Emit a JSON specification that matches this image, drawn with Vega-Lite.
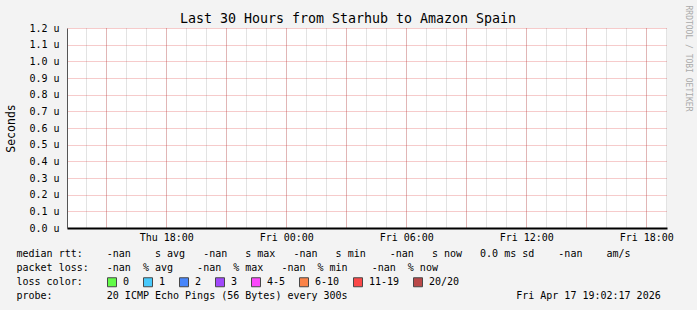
{
  "$schema": "https://vega.github.io/schema/vega-lite/v6.json",
  "width": 600,
  "height": 200,
  "autosize": {"type": "none"},
  "padding": {"left": 67, "top": 28, "right": 30, "bottom": 82},
  "background": "#f3f3f3",
  "config": {
    "view": {"fill": "#ffffff", "stroke": null},
    "locale": {"number": {"decimal": ".", "thousands": ",", "grouping": [3], "currency": ["", " u"]}},
    "axis": {"labelFont": "DejaVu Sans Mono", "titleFont": "DejaVu Sans Mono", "labelColor": "#000000", "titleColor": "#000000", "titleFontWeight": "normal", "labelFontSize": 10}
  },
  "title": {
    "text": "Last 30 Hours from Starhub to Amazon Spain",
    "font": "DejaVu Sans Mono",
    "fontSize": 13.3,
    "fontWeight": "normal",
    "color": "#000000",
    "frame": "group",
    "anchor": "middle",
    "dx": -19,
    "offset": -20
  },
  "datasets": {
    "rtt": [
      {"time": "2026-04-16T13:02:17", "median_rtt": null, "loss": null},
      {"time": "2026-04-17T19:02:17", "median_rtt": null, "loss": null}
    ]
  },
  "data": {"name": "rtt"},
  "layer": [
    {
      "mark": {"type": "rule", "opacity": 0},
      "encoding": {
        "x": {"field": "time", "type": "temporal", "scale": {"nice": false}, "axis": null}
      }
    },
    {
      "mark": {"type": "point", "shape": "square", "filled": true},
      "encoding": {
        "x": {
          "field": "time", "type": "temporal",
          "scale": {"nice": false},
          "axis": {"orient": "bottom", "grid": true, "gridColor": "#8f8f8f", "gridOpacity": 0.5, "gridDash": [1, 1], "tickCount": 30, "labels": false, "ticks": false, "domain": false, "title": null}
        },
        "y": {
          "field": "median_rtt", "type": "quantitative",
          "scale": {"domain": [0, 1.2], "nice": false},
          "axis": {
            "orient": "left",
            "values": [0, 0.1, 0.2, 0.3, 0.4, 0.5, 0.6, 0.7, 0.8, 0.9, 1, 1.1, 1.2],
            "format": "$.1f",
            "grid": true, "gridColor": "#de3030", "gridOpacity": 0.5, "gridDash": [1, 1],
            "ticks": false, "labelPadding": 8,
            "domain": true, "domainColor": "#555555",
            "title": "Seconds", "titleFontSize": 11.5, "titlePadding": 12
          }
        },
        "color": {
          "field": "loss", "type": "nominal",
          "scale": {"domain": ["0", "1", "2", "3", "4-5", "6-10", "11-19", "20/20"], "range": ["#26ff00", "#00b8ff", "#0059ff", "#7e00ff", "#ff00ff", "#ff5500", "#ff0000", "#a10000"]},
          "legend": {
            "title": null, "orient": "none", "legendX": 40, "legendY": 249,
            "direction": "horizontal", "columns": 8,
            "symbolType": "square", "symbolSize": 81, "symbolStrokeColor": "#000000", "symbolStrokeWidth": 1,
            "labelFont": "DejaVu Sans Mono", "labelFontSize": 10, "labelColor": "#000000", "labelOffset": 6, "columnPadding": 11
          }
        }
      }
    },
    {
      "mark": {"type": "point"},
      "encoding": {
        "x": {
          "field": "time", "type": "temporal",
          "scale": {"nice": false},
          "axis": {"orient": "bottom", "grid": true, "gridColor": "#de3030", "gridOpacity": 0.5, "gridDash": [1, 1], "tickCount": 10, "labels": false, "ticks": false, "domain": false, "title": null}
        },
        "y": {"field": "median_rtt", "type": "quantitative", "scale": {"domain": [0, 1.2], "nice": false}, "axis": null}
      }
    },
    {
      "mark": {"type": "point"},
      "encoding": {
        "x": {
          "field": "time", "type": "temporal",
          "scale": {"nice": false},
          "axis": {
            "orient": "bottom", "grid": false, "ticks": false,
            "domain": true, "domainColor": "#000000", "domainWidth": 2,
            "tickCount": 5, "format": "%a %H:%M",
            "labelPadding": 4, "labelFlush": false,
            "title": [
              "median\u00a0rtt:\u00a0\u00a0\u00a0\u00a0-nan\u00a0\u00a0\u00a0\u00a0s\u00a0avg\u00a0\u00a0\u00a0-nan\u00a0\u00a0\u00a0s\u00a0max\u00a0\u00a0\u00a0-nan\u00a0\u00a0\u00a0s\u00a0min\u00a0\u00a0\u00a0\u00a0-nan\u00a0\u00a0\u00a0s\u00a0now\u00a0\u00a0\u00a00.0\u00a0ms\u00a0sd\u00a0\u00a0\u00a0\u00a0-nan\u00a0\u00a0\u00a0\u00a0am/s",
              "packet\u00a0loss:\u00a0\u00a0\u00a0-nan\u00a0\u00a0%\u00a0avg\u00a0\u00a0\u00a0\u00a0-nan\u00a0\u00a0%\u00a0max\u00a0\u00a0\u00a0-nan\u00a0\u00a0%\u00a0min\u00a0\u00a0\u00a0\u00a0-nan\u00a0\u00a0%\u00a0now",
              "loss\u00a0color:",
              "probe:\u00a0\u00a0\u00a0\u00a0\u00a0\u00a0\u00a0\u00a0\u00a020\u00a0ICMP\u00a0Echo\u00a0Pings\u00a0(56\u00a0Bytes)\u00a0every\u00a0300s\u00a0\u00a0\u00a0\u00a0\u00a0\u00a0\u00a0\u00a0\u00a0\u00a0\u00a0\u00a0\u00a0\u00a0\u00a0\u00a0\u00a0\u00a0\u00a0\u00a0\u00a0\u00a0\u00a0\u00a0\u00a0\u00a0\u00a0\u00a0Fri\u00a0Apr\u00a017\u00a019:02:17\u00a02026"
            ],
            "titleAnchor": "start", "titleAlign": "left", "titleX": -51, "titleY": 20, "titleBaseline": "top", "titleFontSize": 10, "titleLineHeight": 14
          }
        },
        "y": {"field": "median_rtt", "type": "quantitative", "scale": {"domain": [0, 1.2], "nice": false}, "axis": null}
      }
    },
    {
      "mark": {"type": "point"},
      "encoding": {
        "x": {"field": "time", "type": "temporal", "scale": {"nice": false}, "axis": null},
        "y": {
          "field": "median_rtt", "type": "quantitative", "scale": {"domain": [0, 1.2], "nice": false},
          "axis": {"orient": "right", "labels": false, "ticks": false, "domain": false, "grid": false, "title": "RRDTOOL / TOBI OETIKER", "titleAngle": 90, "titleColor": "#aaaaaa", "titleFontSize": 8, "titleX": 20, "titleY": -23, "titleAlign": "left", "titleAnchor": "start", "titleBaseline": "middle"}
        }
      }
    }
  ],
  "resolve": {"axis": {"x": "independent", "y": "independent"}}
}
